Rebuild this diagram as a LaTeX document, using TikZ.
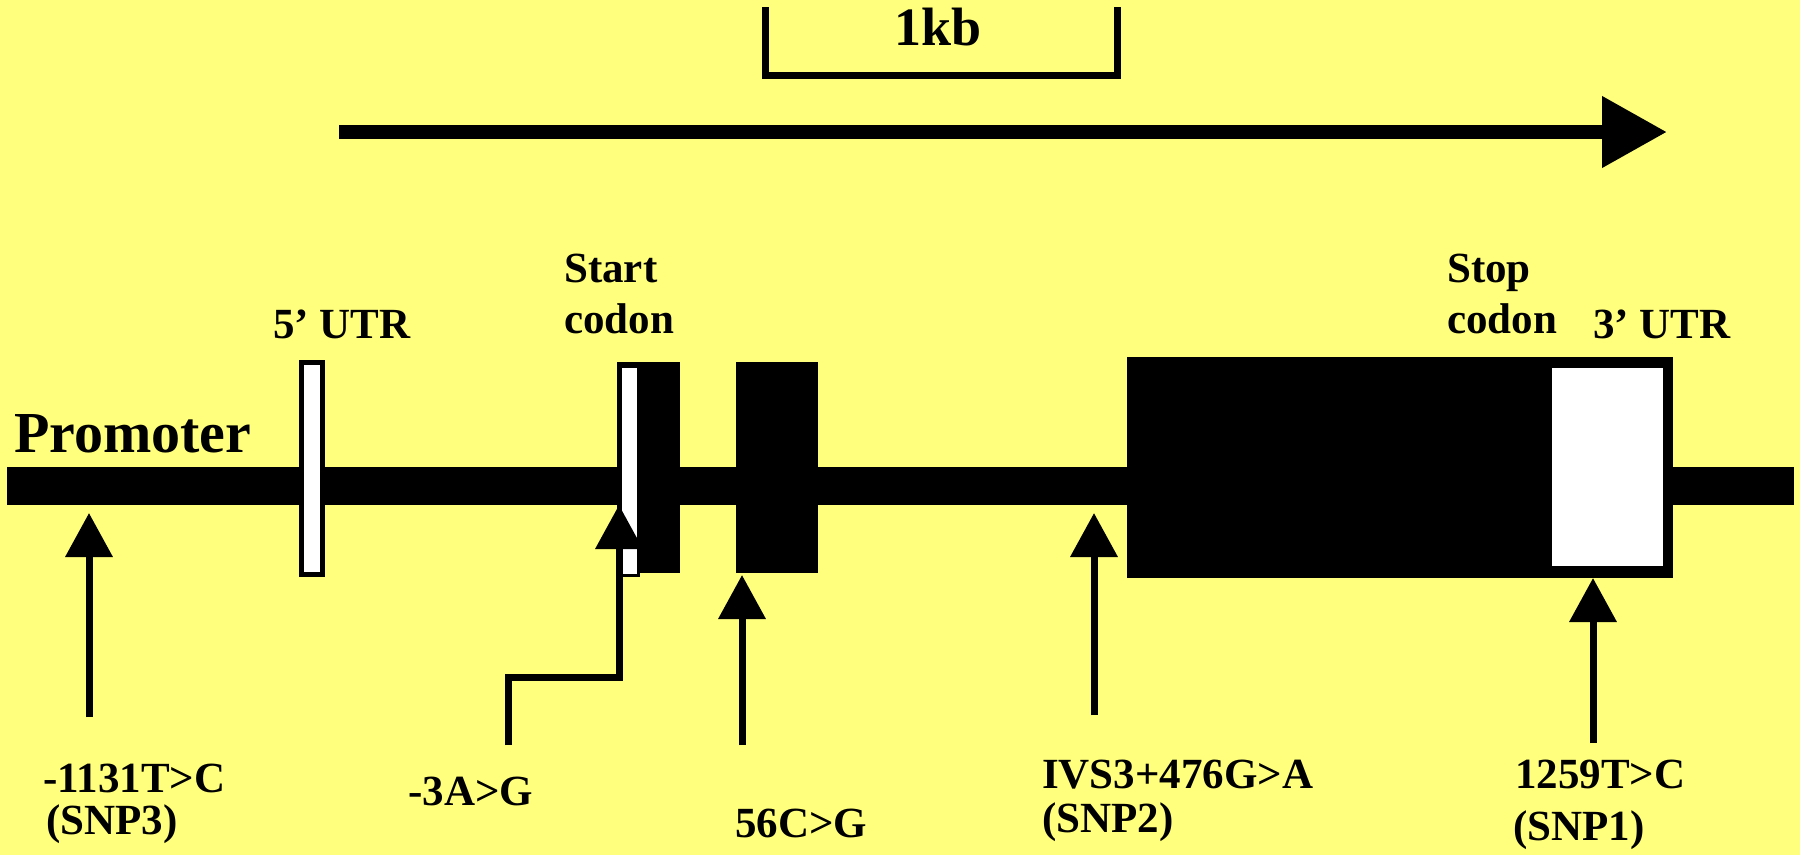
\documentclass[tikz,border=0pt]{standalone}
\usepackage{fontspec}
\setmainfont{Liberation Serif}
\usetikzlibrary{arrows.meta}
\definecolor{bgyellow}{RGB}{255,255,125}
\begin{document}
\begin{tikzpicture}[x=1pt,y=-1pt,
  lbl/.style={font=\fontsize{43}{48}\selectfont\bfseries, inner sep=0pt, anchor=base west},
  blk/.style={fill=black, inner sep=0pt, outer sep=0pt},
  whitebox/.style={fill=white, draw=black, inner sep=0pt, outer sep=0pt},
  snparrow/.style={line width=7pt, -{Triangle[length=44pt,width=46pt]}},
]
\fill[bgyellow] (0,0) rectangle (1800,855);
\useasboundingbox (0,0) rectangle (1800,855);

% scale bar
\coordinate (sbL) at (765,7);
\coordinate (sbR) at (1117,7);
\draw[line width=7pt] (sbL) -- ++(0,68) -| (sbR);
\node[font=\fontsize{54}{60}\selectfont\bfseries, inner sep=0pt] (kb) at (938,27) {1kb};

% direction arrow
\coordinate (ta) at (339,132);
\coordinate (tb) at (1667,132);
\draw[line width=14pt, -{Triangle[length=65pt,width=68pt]}] (ta) -- (tb);

% gene line
\node[blk, minimum width=1787pt, minimum height=38pt, anchor=west] (gene) at (7,486) {};

% 5' UTR exon
\node[whitebox, line width=5pt, minimum width=21pt, minimum height=212pt] (utr5) at (312,468.5) {};

% start codon exon
\node[blk, minimum width=63pt, minimum height=211pt] (ex1) at (648.5,467.5) {};
\node[whitebox, line width=3pt, minimum width=18pt, minimum height=209pt] (ex1w) at (629.5,471) {};

% exon 2
\node[blk, minimum width=82pt, minimum height=211pt] (ex2) at (777,467.5) {};

% last exon with 3' UTR
\node[blk, minimum width=546pt, minimum height=221pt] (ex3) at (1400,467.5) {};
\node[fill=white, inner sep=0pt, minimum width=111pt, minimum height=198pt] (utr3) at (1607.5,467) {};

% feature labels
\node[font=\fontsize{58}{64}\selectfont\bfseries, inner sep=0pt, anchor=base west] (prom) at (14,452) {Promoter};
\node[lbl] (l5utr) at (273,338) {5’ UTR};
\node[lbl] (lstart) at (564,282) {Start};
\node[lbl] (lcod1) at (564,333) {codon};
\node[lbl] (lstop) at (1447,282) {Stop};
\node[lbl] (lcod2) at (1447,333) {codon};
\node[lbl] (l3utr) at (1593,338) {3’ UTR};

% SNP arrows
\coordinate (s3b) at (89,717);   \coordinate (s3t) at (89,513);
\coordinate (a3b) at (508,745);  \coordinate (a3k) at (619,677); \coordinate (a3t) at (619,505);
\coordinate (c56b) at (742,745); \coordinate (c56t) at (742,575);
\coordinate (s2b) at (1094,715); \coordinate (s2t) at (1094,513);
\coordinate (s1b) at (1593,743); \coordinate (s1t) at (1593,578);
\draw[snparrow] (s3b) -- (s3t);
\draw[snparrow] (a3b) |- (a3k) -- (a3t);
\draw[snparrow] (c56b) -- (c56t);
\draw[snparrow] (s2b) -- (s2t);
\draw[snparrow] (s1b) -- (s1t);

% SNP labels
\node[lbl] (n3a) at (43,792) {-1131T>C};
\node[lbl] (n3b) at (46,834) {(SNP3)};
\node[lbl] (n3ag) at (408,805) {-3A>G};
\node[lbl] (n56) at (735,837) {56C>G};
\node[lbl] (n2a) at (1042,788) {IVS3+476G>A};
\node[lbl] (n2b) at (1042,832) {(SNP2)};
\node[lbl] (n1a) at (1515,788) {1259T>C};
\node[lbl] (n1b) at (1513,840) {(SNP1)};
\end{tikzpicture}
\end{document}
